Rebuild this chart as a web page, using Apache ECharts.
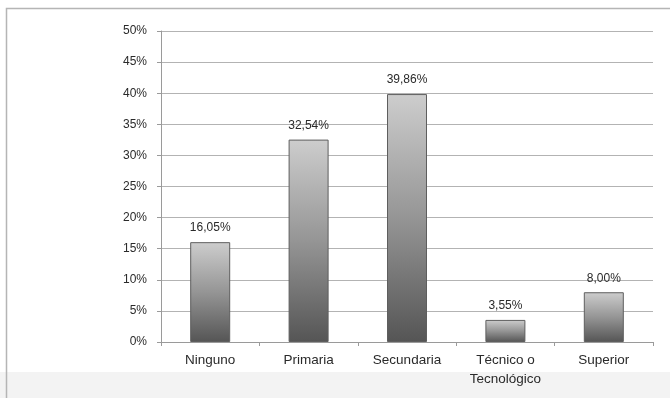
<!DOCTYPE html>
<html>
<head>
<meta charset="utf-8">
<script src="https://cdn.jsdelivr.net/npm/echarts@6/dist/echarts.min.js"></script>
<style>
  html, body { margin: 0; padding: 0; background: #fff; }
  #chart { width: 670px; height: 398px; }
</style>
</head>
<body>
<div id="chart"></div>
<script>
// Nivel educativo: share of respondents per category
const categories = ['Ninguno', 'Primaria', 'Secundaria', 'Técnico o\nTecnológico', 'Superior'];
const values = [16.05, 32.54, 39.86, 3.55, 8.00];
const yTicks = [0, 5, 10, 15, 20, 25, 30, 35, 40, 45, 50];

const fmt = v => v.toFixed(2).replace('.', ',') + '%';
const FONT = 'Liberation Sans, Arial, sans-serif';

const chart = echarts.init(document.getElementById('chart'), null, { renderer: 'canvas' });

const barGradient = new echarts.graphic.LinearGradient(0, 0, 0, 1, [
  { offset: 0, color: '#cdcdcd' },
  { offset: 0.5, color: '#959595' },
  { offset: 1, color: '#555555' }
]);

chart.setOption({
  animation: false,
  backgroundColor: '#ffffff',
  graphic: [
    {
      type: 'rect', z: -10, silent: true,
      shape: { x: 0, y: 372, width: 670, height: 26 },
      style: { fill: '#f3f3f3' }
    },
    {
      type: 'rect', z: -5, silent: true,
      shape: { x: 6.5, y: 8.5, width: 700, height: 420 },
      style: { fill: 'none', stroke: '#b5b5b5', lineWidth: 1.5 }
    }
  ],
  grid: { left: 161, right: 17, top: 31, bottom: 56 },
  xAxis: {
    type: 'category',
    data: categories,
    axisLine: { lineStyle: { color: '#9a9a9a' } },
    axisTick: { show: true, length: 4, lineStyle: { color: '#9a9a9a' } },
    axisLabel: {
      color: '#2a2a2a', fontSize: 13.5, fontFamily: FONT,
      margin: 9, lineHeight: 19
    }
  },
  yAxis: {
    type: 'value',
    min: yTicks[0],
    max: yTicks[yTicks.length - 1],
    interval: 5,
    axisLine: { show: true, lineStyle: { color: '#9a9a9a' } },
    axisTick: { show: true, length: 4, lineStyle: { color: '#9a9a9a' } },
    splitLine: { lineStyle: { color: '#b3b3b3', width: 1 } },
    axisLabel: {
      color: '#2a2a2a', fontSize: 12, fontFamily: FONT,
      margin: 14, formatter: v => v + '%'
    }
  },
  series: [{
    type: 'bar',
    data: values,
    barWidth: 40,
    itemStyle: {
      color: barGradient,
      borderColor: '#5e5e5e',
      borderWidth: 1
    },
    label: {
      show: true,
      position: 'top',
      distance: 8,
      color: '#2a2a2a',
      fontSize: 12,
      fontFamily: FONT,
      formatter: p => fmt(p.value)
    }
  }]
});
</script>
</body>
</html>
